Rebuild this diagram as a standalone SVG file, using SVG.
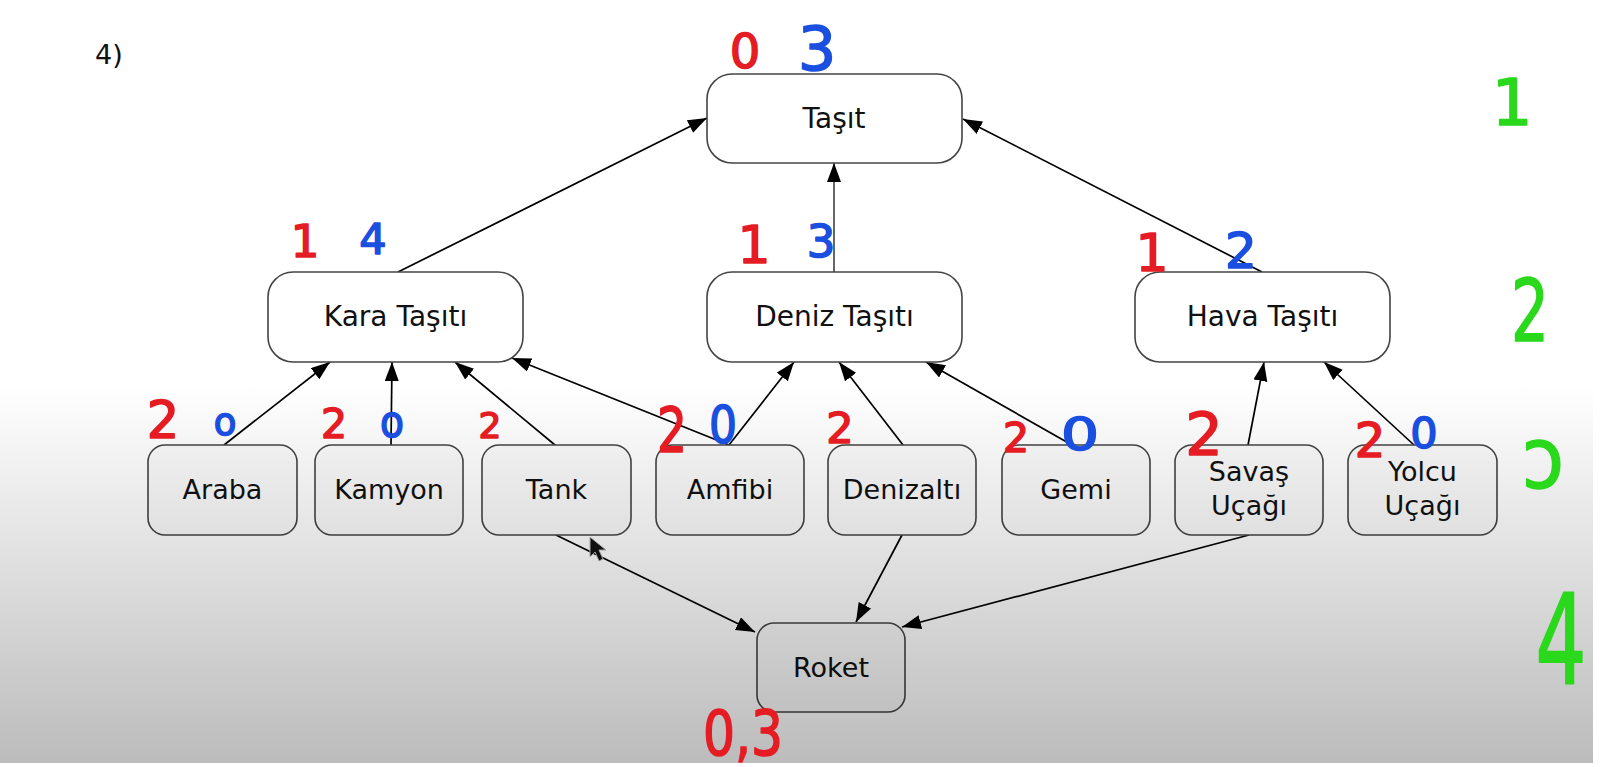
<svg xmlns="http://www.w3.org/2000/svg" width="1602" height="767" viewBox="0 0 1602 767">
<defs>
<marker id="ah" markerUnits="userSpaceOnUse" markerWidth="20" markerHeight="15" refX="19" refY="7" orient="auto">
<path d="M0,0 L19,7 L0,14 z" fill="#000"/>
</marker>
<linearGradient id="shade" x1="0" y1="0" x2="0" y2="1">
<stop offset="0" stop-color="#000" stop-opacity="0"/>
<stop offset="1" stop-color="#000" stop-opacity="0.265"/>
</linearGradient>
</defs>
<style>
.box{fill:#fff;stroke:#444;stroke-width:1.6}
.sbox{fill:#fafafa;stroke:#444;stroke-width:1.6}
.lbl{font-family:"DejaVu Sans",sans-serif;font-size:28px;fill:#111;text-anchor:middle}
.slbl{font-family:"DejaVu Sans",sans-serif;font-size:27px;fill:#111;text-anchor:middle}
.edge{stroke:#000;stroke-width:1.7;fill:none;marker-end:url(#ah)}
.hw{font-family:"DejaVu Sans",sans-serif;text-anchor:middle;stroke-width:1.6;stroke-linejoin:round}
.r{fill:#e51c23;stroke:#e51c23}
.b{fill:#1a4fe0;stroke:#1a4fe0}
.g{fill:#2ad81c;stroke:#2ad81c}
</style>
<rect x="0" y="0" width="1602" height="767" fill="#fff"/>
<text x="95" y="64" font-family="DejaVu Sans, sans-serif" font-size="27" fill="#111">4)</text>

<g id="connectors">
<line class="edge" x1="398" y1="272" x2="707" y2="118"/>
<line class="edge" x1="834" y1="272" x2="834" y2="163" style="stroke-width:1.2"/>
<line class="edge" x1="1262" y1="272" x2="963" y2="119"/>
<line class="edge" x1="224" y1="445" x2="330" y2="362"/>
<line class="edge" x1="391" y1="445" x2="392" y2="362"/>
<line class="edge" x1="555" y1="445" x2="455" y2="362"/>
<line class="edge" x1="729" y1="445" x2="512" y2="358"/>
<line class="edge" x1="729" y1="445" x2="794" y2="362"/>
<line class="edge" x1="903" y1="445" x2="839" y2="362"/>
<line class="edge" x1="1072" y1="445" x2="926" y2="362"/>
<line class="edge" x1="1248" y1="445" x2="1264" y2="362"/>
<line class="edge" x1="1414" y1="445" x2="1324" y2="362"/>
<line class="edge" x1="556" y1="535" x2="755" y2="632"/>
<line class="edge" x1="902" y1="535" x2="856" y2="622"/>
<line class="edge" x1="1249" y1="535" x2="902" y2="627"/>
</g>

<g id="tasit"><rect class="box" x="707" y="74" width="255" height="89" rx="25"/><text class="lbl" x="834" y="128">Taşıt</text></g>
<g id="kara"><rect class="box" x="268" y="272" width="255" height="90" rx="25"/><text class="lbl" x="395.5" y="326">Kara Taşıtı</text></g>
<g id="deniz"><rect class="box" x="707" y="272" width="255" height="90" rx="25"/><text class="lbl" x="834.5" y="326">Deniz Taşıtı</text></g>
<g id="hava"><rect class="box" x="1135" y="272" width="255" height="90" rx="25"/><text class="lbl" x="1262.5" y="326">Hava Taşıtı</text></g>

<g id="araba"><rect class="sbox" x="148" y="445" width="149" height="90" rx="17"/><text class="slbl" x="222.5" y="499">Araba</text></g>
<g id="kamyon"><rect class="sbox" x="315" y="445" width="148" height="90" rx="17"/><text class="slbl" x="389" y="499">Kamyon</text></g>
<g id="tank"><rect class="sbox" x="482" y="445" width="149" height="90" rx="17"/><text class="slbl" x="556.5" y="499">Tank</text></g>
<g id="amfibi"><rect class="sbox" x="656" y="445" width="148" height="90" rx="17"/><text class="slbl" x="730" y="499">Amfibi</text></g>
<g id="denizalti"><rect class="sbox" x="828" y="445" width="148" height="90" rx="17"/><text class="slbl" x="902" y="499">Denizaltı</text></g>
<g id="gemi"><rect class="sbox" x="1002" y="445" width="148" height="90" rx="17"/><text class="slbl" x="1076" y="499">Gemi</text></g>
<g id="savas"><rect class="sbox" x="1175" y="445" width="148" height="90" rx="17"/><text class="slbl" x="1249" y="481">Savaş</text><text class="slbl" x="1249" y="515">Uçağı</text></g>
<g id="yolcu"><rect class="sbox" x="1348" y="445" width="149" height="90" rx="17"/><text class="slbl" x="1422.5" y="481">Yolcu</text><text class="slbl" x="1422.5" y="515">Uçağı</text></g>
<g id="roket"><rect class="sbox" x="757" y="623" width="148" height="89" rx="17"/><text class="slbl" x="831" y="677">Roket</text></g>

<polygon points="590,537 590,557 595,552 599,561 603,559 599,550 606,550" fill="#111" stroke="#bbb" stroke-width="1"/>

<rect x="0" y="385" width="1593" height="378" fill="url(#shade)"/>

<g id="annotations">
<text class="hw r" x="745" y="68" font-size="48">0</text>
<text class="hw b" x="817" y="70" font-size="60">3</text>
<text class="hw r" x="305" y="257" font-size="45">1</text>
<text class="hw b" x="373" y="254" font-size="43">4</text>
<text class="hw r" x="754" y="263" font-size="52">1</text>
<text class="hw b" x="821" y="257" font-size="45">3</text>
<text class="hw r" x="1152" y="271" font-size="52">1</text>
<text class="hw b" x="1241" y="268" font-size="50">2</text>
<text class="hw r" x="163" y="438" font-size="51">2</text>
<text class="hw b" x="225" y="435" font-size="37">o</text>
<text class="hw r" x="334" y="438" font-size="41">2</text>
<text class="hw b" x="392" y="437" font-size="44" textLength="24" lengthAdjust="spacingAndGlyphs">o</text>
<text class="hw r" x="490" y="438" font-size="36">2</text>
<text class="hw r" x="672" y="452" font-size="63" textLength="30" lengthAdjust="spacingAndGlyphs">2</text>
<text class="hw b" x="723" y="443" font-size="51" textLength="28" lengthAdjust="spacingAndGlyphs">0</text>
<text class="hw r" x="840" y="443" font-size="43">2</text>
<text class="hw r" x="1016" y="452" font-size="41">2</text>
<text class="hw b" x="1080" y="450" font-size="44" textLength="38" lengthAdjust="spacingAndGlyphs">0</text>
<text class="hw r" x="1204" y="455" font-size="59">2</text>
<text class="hw r" x="1370" y="457" font-size="48">2</text>
<text class="hw b" x="1424" y="448" font-size="43">0</text>
<text class="hw r" x="743" y="755" font-size="62" textLength="80" lengthAdjust="spacingAndGlyphs">0,3</text>
<text class="hw g" x="1512" y="125" font-size="64">1</text>
<text class="hw g" x="1530" y="341" font-size="85" textLength="38" lengthAdjust="spacingAndGlyphs">2</text>
<text class="hw g" x="1543" y="488" font-size="86" textLength="42" lengthAdjust="spacingAndGlyphs">ɔ</text>
<text class="hw g" transform="translate(1561,683) scale(0.8,1.25)" x="0" y="0" font-size="100">4</text>
</g>
</svg>
